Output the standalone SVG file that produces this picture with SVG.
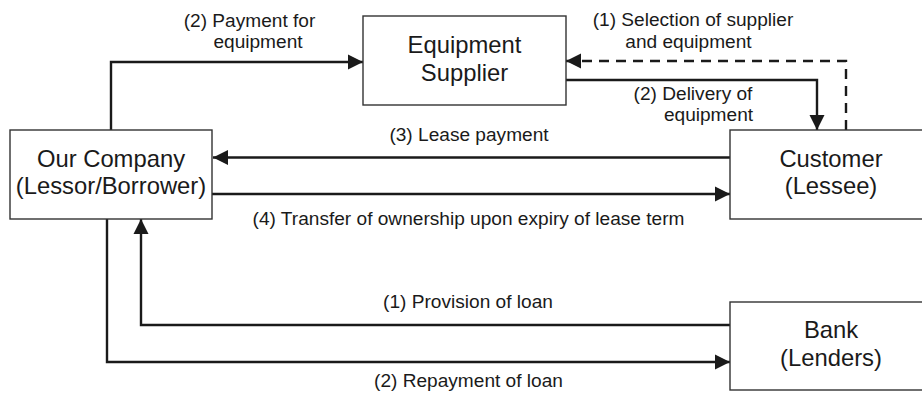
<svg xmlns="http://www.w3.org/2000/svg" width="922" height="394" viewBox="0 0 922 394">
<style>
.box{fill:#fff;stroke:#333;stroke-width:1.4}
.nl{font-family:"Liberation Sans",Arial,sans-serif;font-size:23.8px;fill:#1a1a1a;text-anchor:middle}
.el{font-family:"Liberation Sans",Arial,sans-serif;font-size:19.1px;fill:#1a1a1a;text-anchor:middle}
.cn{fill:none;stroke:#1a1a1a;stroke-width:2.4}
.dash{stroke-dasharray:10 7}
</style>
<defs>
<marker id="ah" markerUnits="userSpaceOnUse" markerWidth="16" markerHeight="16" viewBox="0 0 16 16" refX="15" refY="8" orient="auto">
<path d="M0,0.5 L15,8 L0,15.5 Z" fill="#1a1a1a"/>
</marker>
</defs>
<rect width="922" height="394" fill="#fff"/>
<g id="connectors">
<path class="cn" d="M111,130 V62 H363" marker-end="url(#ah)"/>
<path class="cn" d="M566,80 H817 V130" marker-end="url(#ah)"/>
<path class="cn dash" d="M846,130 V61 H566" marker-end="url(#ah)"/>
<path class="cn" d="M730,157.5 H213" marker-end="url(#ah)"/>
<path class="cn" d="M212,194 H730" marker-end="url(#ah)"/>
<path class="cn" d="M730,325 H141 V219" marker-end="url(#ah)"/>
<path class="cn" d="M107,219 V362 H730" marker-end="url(#ah)"/>
</g>
<g id="edge-labels">
<text class="el" x="249.5" y="26.5">(2) Payment for</text>
<text class="el" x="258" y="47.5">equipment</text>
<text class="el" x="693" y="26">(1) Selection of supplier</text>
<text class="el" x="688.5" y="47.5">and equipment</text>
<text class="el" x="693" y="100">(2) Delivery of</text>
<text class="el" x="708.5" y="121">equipment</text>
<text class="el" x="469" y="141">(3) Lease payment</text>
<text class="el" x="468.5" y="225">(4) Transfer of ownership upon expiry of lease term</text>
<text class="el" x="468" y="308">(1) Provision of loan</text>
<text class="el" x="468.5" y="387">(2) Repayment of loan</text>
</g>
<g id="supplier">
<rect class="box" x="363" y="16" width="203" height="89"/>
<text class="nl" x="464.5" y="53">Equipment</text>
<text class="nl" x="464.5" y="81">Supplier</text>
</g>
<g id="company">
<rect class="box" x="10" y="130" width="202" height="89"/>
<text class="nl" x="111" y="167">Our Company</text>
<text class="nl" x="111" y="194">(Lessor/Borrower)</text>
</g>
<g id="customer">
<rect class="box" x="730" y="130" width="210" height="89"/>
<text class="nl" x="831" y="167">Customer</text>
<text class="nl" x="831" y="194">(Lessee)</text>
</g>
<g id="bank">
<rect class="box" x="730" y="302" width="210" height="88"/>
<text class="nl" x="831" y="338">Bank</text>
<text class="nl" x="831" y="366">(Lenders)</text>
</g>
</svg>
